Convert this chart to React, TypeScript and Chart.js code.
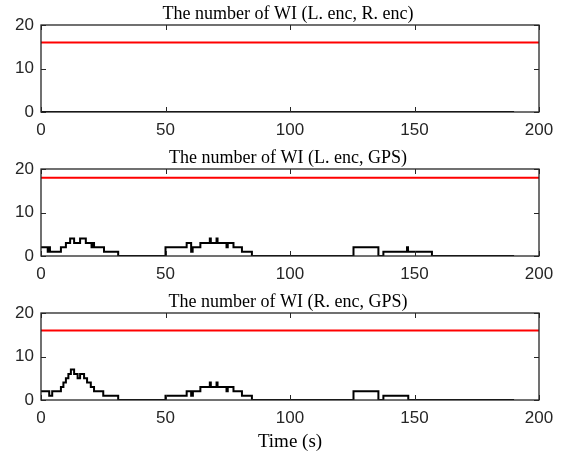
import React, { useEffect, useRef } from 'react';
import { Chart, registerables } from 'chart.js';
Chart.register(...registerables);

// ---- data ----
const titles = [
  'The number of WI (L. enc, R. enc)',
  'The number of WI (L. enc, GPS)',
  'The number of WI (R. enc, GPS)',
];
const thresholds = [16, 18, 16];
const xTicks = [0, 50, 100, 150, 200];
const yTicks = [0, 10, 20];
const xAxisTitle = 'Time (s)';

// step-change times (s) and values (count holds until next time)
const times1 = [0, 190];
const counts1 = [0, 0];

const times2 = [0, 2.7, 3.2, 3.6, 8, 10, 11.7, 13.3, 15.7, 18, 20.3, 20.7, 21.3, 25.3, 31, 50, 58.5, 60.3, 60.9, 64, 67.8, 68.2, 70.5, 70.9, 74.5, 75, 77.3, 80.7, 84.7, 125.5, 135.5, 137.5, 147, 147.4, 157, 190];
const counts2 = [2, 1, 2, 1, 2, 3, 4, 3, 4, 3, 2, 3, 2, 1, 0, 2, 3, 1, 2, 3, 4, 3, 4, 3, 2, 3, 2, 1, 0, 2, 0, 1, 2, 1, 0, 0];

const times3 = [0, 3.3, 4.5, 8, 9, 10, 11, 12, 13.3, 14.7, 15.7, 17.3, 18.5, 20, 21.3, 25, 31, 50, 58.5, 60.3, 61, 64, 67.8, 68.2, 70.5, 70.9, 74.5, 75, 77.3, 80.7, 84.7, 125.5, 135.5, 137.5, 147.5, 190];
const counts3 = [2, 1, 2, 3, 4, 5, 6, 7, 6, 5, 6, 5, 4, 3, 2, 1, 0, 1, 2, 1, 2, 3, 4, 3, 4, 3, 2, 3, 2, 1, 0, 2, 0, 1, 0, 0];

const allTimes = [times1, times2, times3];
const allCounts = [counts1, counts2, counts3];

const W = 565;
const canvasTops = [0, 144, 288];
const canvasHeights = [144, 144, 164];
const AREA_TOP = 25;
const AREA_H = 87;
const LEFT = 41;
const RIGHT_PAD = 26;

const AXIS_COLOR = '#262626';
const TICK_FONT = { family: '"Liberation Sans", Arial, sans-serif', size: 17 };
const SERIF = '"Liberation Serif", "Times New Roman", serif';

function makeBoxPlugin(title: string, showXTitle: boolean) {
  return {
    id: 'matlabBox',
    afterDatasetsDraw(chart: any) {
      const { ctx, chartArea: a, scales } = chart;
      const x = scales.x;
      const y = scales.y;
      ctx.save();
      ctx.strokeStyle = AXIS_COLOR;
      ctx.lineWidth = 1.3;
      ctx.strokeRect(a.left, a.top, a.right - a.left, a.bottom - a.top);
      const tl = 5;
      ctx.lineWidth = 1;
      ctx.beginPath();
      for (const v of xTicks) {
        const px = Math.round(x.getPixelForValue(v)) + 0.5;
        ctx.moveTo(px, a.bottom);
        ctx.lineTo(px, a.bottom - tl);
        ctx.moveTo(px, a.top);
        ctx.lineTo(px, a.top + tl);
      }
      for (const v of yTicks) {
        const py = Math.round(y.getPixelForValue(v)) + 0.5;
        ctx.moveTo(a.left, py);
        ctx.lineTo(a.left + tl, py);
        ctx.moveTo(a.right, py);
        ctx.lineTo(a.right - tl, py);
      }
      ctx.stroke();
      ctx.fillStyle = '#000';
      ctx.font = `18px ${SERIF}`;
      ctx.textAlign = 'center';
      ctx.textBaseline = 'alphabetic';
      ctx.fillText(title, (a.left + a.right) / 2 - 2, a.top - 6);
      if (showXTitle) {
        ctx.font = `19px ${SERIF}`;
        ctx.textBaseline = 'middle';
        ctx.fillText(xAxisTitle, (a.left + a.right) / 2, a.bottom + 42);
      }
      ctx.restore();
    },
  };
}

function Panel({ idx }: { idx: number }) {
  const ref = useRef<HTMLCanvasElement>(null);
  useEffect(() => {
    if (!ref.current) return;
    const h = canvasHeights[idx];
    const times = allTimes[idx];
    const counts = allCounts[idx];
    const chart = new Chart(ref.current, {
      type: 'line',
      data: {
        datasets: [
          {
            data: times.map((t, i) => ({ x: t, y: counts[i] })),
            borderColor: '#000000',
            borderWidth: 2,
            stepped: 'before' as any,
            pointRadius: 0,
            fill: false,
          },
          {
            data: [
              { x: xTicks[0], y: thresholds[idx] },
              { x: xTicks[xTicks.length - 1], y: thresholds[idx] },
            ],
            borderColor: '#ff0000',
            borderWidth: 2,
            pointRadius: 0,
            fill: false,
          },
        ],
      },
      options: {
        responsive: false,
        animation: false,
        events: [],
        layout: { padding: { left: 0, right: RIGHT_PAD, top: AREA_TOP, bottom: 0 } },
        plugins: { legend: { display: false }, tooltip: { enabled: false }, title: { display: false } },
        scales: {
          x: {
            type: 'linear',
            min: 0,
            max: 200,
            afterBuildTicks: (s: any) => { s.ticks = xTicks.map((v) => ({ value: v })); },
            afterFit: (s: any) => { s.height = h - AREA_TOP - AREA_H; },
            ticks: { font: TICK_FONT, color: AXIS_COLOR, padding: 8, maxRotation: 0 },
            grid: { display: true, drawOnChartArea: false, drawTicks: false },
            border: { display: false },
          },
          y: {
            type: 'linear',
            min: 0,
            max: 20,
            afterBuildTicks: (s: any) => { s.ticks = yTicks.map((v) => ({ value: v })); },
            afterFit: (s: any) => { s.width = LEFT; },
            ticks: { font: TICK_FONT, color: AXIS_COLOR, padding: 7 },
            grid: { display: true, drawOnChartArea: false, drawTicks: false },
            border: { display: false },
          },
        },
      },
      plugins: [makeBoxPlugin(titles[idx], idx === 2)],
    } as any);
    return () => chart.destroy();
  }, [idx]);
  return (
    <canvas
      ref={ref}
      width={W}
      height={canvasHeights[idx]}
      style={{ position: 'absolute', left: 0, top: canvasTops[idx], width: W, height: canvasHeights[idx], display: 'block' }}
    />
  );
}

export default function App() {
  useEffect(() => {
    document.body.style.margin = '0';
    document.body.style.background = '#fff';
  }, []);
  return (
    <div style={{ position: 'absolute', left: 0, top: 0, width: W, height: 452, background: '#fff' }}>
      {[0, 1, 2].map((i) => (
        <Panel key={i} idx={i} />
      ))}
    </div>
  );
}
